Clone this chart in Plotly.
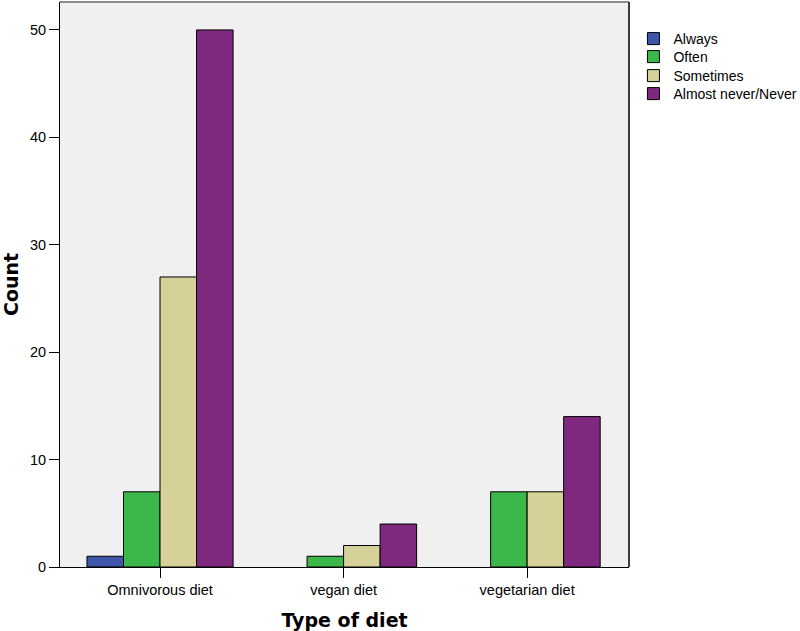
import plotly.graph_objects as go

categories = ["Omnivorous diet", "vegan diet", "vegetarian diet"]
series_names = ["Always", "Often", "Sometimes", "Almost never/Never"]
always = [1, None, None]
often = [7, 1, 7]
sometimes = [27, 2, 7]
never = [50, 4, 14]
colors = ["#3F57AA", "#3CB84A", "#D5D198", "#7E297D"]
y_ticks = [0, 10, 20, 30, 40, 50]

series = [always, often, sometimes, never]
x_pos = list(range(len(categories)))

H = 631
legend_centers = [38, 56, 75, 93]  # pixel centres of legend entries
legend_ids = ["legend", "legend2", "legend3", "legend4"]

fig = go.Figure()
for name, vals, col, lid in zip(series_names, series, colors, legend_ids):
    fig.add_trace(go.Bar(
        x=x_pos, y=vals, name=name, legend=lid,
        marker=dict(color=col, line=dict(color="black", width=1)),
    ))

legend_font = dict(family="Liberation Sans, Arial", size=14, color="black")
legends = {}
for lid, cy in zip(legend_ids, legend_centers):
    legends[lid] = dict(
        xref="container", yref="container",
        x=0.7918, y=1 - (cy - 15) / H, xanchor="left", yanchor="top",
        font=legend_font, itemwidth=30, bgcolor="rgba(0,0,0,0)",
    )

fig.update_layout(
    width=800, height=H,
    barmode="group", bargap=0.204, bargroupgap=0,
    paper_bgcolor="white", plot_bgcolor="#F0F0F0",
    margin=dict(l=60, r=171, t=2, b=63.5, autoexpand=False),
    font=dict(family="Liberation Sans, Arial", size=14.5, color="black"),
    showlegend=True,
    **legends,
)
title_font = dict(family="DejaVu Sans", size=19, color="black", weight="bold")
fig.update_xaxes(
    tickmode="array", tickvals=x_pos, ticktext=categories,
    range=[-0.545, 2.555], showgrid=False, zeroline=False,
    showline=True, linecolor="black", linewidth=1, automargin=False,
    ticks="outside", ticklen=10, tickcolor="black",
    title=dict(text="Type of diet", font=title_font, standoff=17),
)
fig.update_yaxes(
    tickmode="array", tickvals=y_ticks,
    range=[0, 52.6], showgrid=False, zeroline=False,
    showline=True, linecolor="black", linewidth=1, automargin=False,
    ticks="outside", ticklen=10, tickcolor="black",
    title=dict(text="Count", font=title_font, standoff=10),
)
fig.add_shape(type="line", xref="paper", yref="paper", x0=0, x1=1, y0=1, y1=1,
              line=dict(color="#8C8C8C", width=2))
fig.add_shape(type="line", xref="paper", yref="paper", x0=1, x1=1, y0=0, y1=1,
              line=dict(color="#3C3C3C", width=2))

fig.write_html("out.html", config={"displayModeBar": False},
               post_script="document.body.style.margin='0px';")
